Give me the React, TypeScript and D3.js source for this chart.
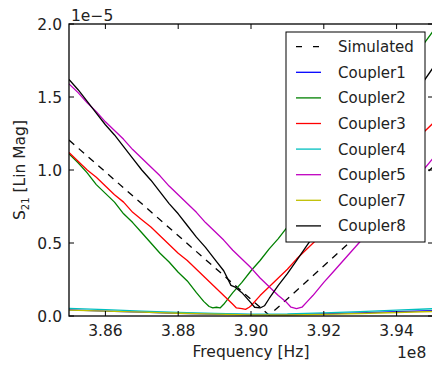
import React from "react";
import * as d3 from "d3";

const X_TICKS = [3.86, 3.88, 3.9, 3.92, 3.94];
const Y_TICKS = [0, 0.5, 1.0, 1.5, 2.0];
const Y_TICK_LABELS = ["0.0", "0.5", "1.0", "1.5", "2.0"];
const X_TICK_LABELS = ["3.86", "3.88", "3.90", "3.92", "3.94"];

const SIMULATED: [number, number][] = [
  [3.85, 1.205], [3.905, 0.005], [3.95, 1.02],
];
const COUPLER1: [number, number][] = [
  [3.85, 0.042], [3.86, 0.034], [3.87, 0.026], [3.88, 0.019], [3.89, 0.013], [3.9, 0.009],
  [3.91, 0.01], [3.92, 0.015], [3.93, 0.022], [3.94, 0.029], [3.95, 0.036],
];
const COUPLER2: [number, number][] = [
  [3.85, 1.11], [3.8525, 1.05], [3.855, 0.98], [3.8575, 0.9], [3.86, 0.84], [3.8625, 0.78],
  [3.865, 0.7], [3.8675, 0.64], [3.87, 0.57], [3.8725, 0.5], [3.875, 0.43], [3.8775, 0.37],
  [3.88, 0.3], [3.8825, 0.24], [3.885, 0.16], [3.887, 0.1], [3.8885, 0.065], [3.8895, 0.055],
  [3.8905, 0.06], [3.8915, 0.055], [3.8925, 0.08], [3.895, 0.16], [3.8975, 0.23], [3.9, 0.31],
  [3.9025, 0.38], [3.905, 0.46], [3.9075, 0.53], [3.91, 0.61], [3.915, 0.77], [3.92, 0.94],
  [3.925, 1.11], [3.93, 1.28], [3.935, 1.45], [3.94, 1.62], [3.945, 1.78], [3.95, 1.95],
];
const COUPLER3: [number, number][] = [
  [3.85, 1.12], [3.8525, 1.06], [3.855, 1.0], [3.8575, 0.95], [3.86, 0.89], [3.8625, 0.83],
  [3.865, 0.78], [3.8675, 0.71], [3.87, 0.66], [3.8725, 0.61], [3.875, 0.55], [3.8775, 0.49],
  [3.88, 0.43], [3.8825, 0.38], [3.885, 0.32], [3.8875, 0.26], [3.89, 0.2], [3.8925, 0.14],
  [3.895, 0.08], [3.896, 0.055], [3.8975, 0.05], [3.8985, 0.045], [3.8995, 0.06], [3.9, 0.07],
  [3.9025, 0.14], [3.905, 0.2], [3.9075, 0.26], [3.91, 0.32], [3.9125, 0.39], [3.915, 0.45],
  [3.92, 0.57], [3.925, 0.7], [3.93, 0.82], [3.935, 0.95], [3.94, 1.07], [3.945, 1.2], [3.95, 1.32],
];
const COUPLER4: [number, number][] = [
  [3.85, 0.052], [3.86, 0.043], [3.87, 0.034], [3.88, 0.025], [3.89, 0.018], [3.9, 0.013],
  [3.91, 0.014], [3.92, 0.021], [3.93, 0.03], [3.94, 0.04], [3.95, 0.05],
];
const COUPLER5: [number, number][] = [
  [3.85, 1.59], [3.8525, 1.53], [3.855, 1.46], [3.8575, 1.4], [3.86, 1.33], [3.8625, 1.27],
  [3.865, 1.21], [3.8675, 1.14], [3.87, 1.08], [3.8725, 1.02], [3.875, 0.96], [3.8775, 0.89],
  [3.88, 0.83], [3.8825, 0.77], [3.885, 0.71], [3.8875, 0.64], [3.89, 0.58], [3.8925, 0.52],
  [3.895, 0.45], [3.8975, 0.39], [3.9, 0.33], [3.9025, 0.26], [3.905, 0.2], [3.9075, 0.14],
  [3.9095, 0.1], [3.911, 0.06], [3.9125, 0.05], [3.914, 0.06], [3.9155, 0.1], [3.917, 0.14],
  [3.92, 0.23], [3.9225, 0.3], [3.925, 0.37], [3.9275, 0.44], [3.93, 0.51], [3.935, 0.65],
  [3.94, 0.79], [3.945, 0.93], [3.95, 1.08],
];
const COUPLER7: [number, number][] = [
  [3.85, 0.04], [3.86, 0.033], [3.87, 0.026], [3.88, 0.019], [3.89, 0.013], [3.9, 0.008],
  [3.91, 0.007], [3.92, 0.011], [3.93, 0.017], [3.94, 0.024], [3.95, 0.031],
];
const COUPLER8: [number, number][] = [
  [3.85, 1.62], [3.8525, 1.55], [3.855, 1.47], [3.8575, 1.39], [3.86, 1.31], [3.8625, 1.24],
  [3.865, 1.16], [3.8675, 1.08], [3.87, 1.0], [3.8725, 0.93], [3.875, 0.85], [3.8775, 0.77],
  [3.88, 0.7], [3.8825, 0.62], [3.885, 0.54], [3.8875, 0.47], [3.89, 0.39], [3.8925, 0.31],
  [3.8945, 0.21], [3.8955, 0.2], [3.8975, 0.16], [3.9, 0.09], [3.901, 0.06], [3.9025, 0.055],
  [3.9037, 0.07], [3.905, 0.12], [3.9075, 0.21], [3.91, 0.29], [3.9125, 0.38], [3.915, 0.47],
  [3.92, 0.65], [3.925, 0.82], [3.93, 1.0], [3.935, 1.17], [3.94, 1.35], [3.945, 1.52], [3.95, 1.7],
];

const SERIES_NAMES = ["Simulated", "Coupler1", "Coupler2", "Coupler3", "Coupler4", "Coupler5", "Coupler7", "Coupler8"];
const SERIES_DATA = [SIMULATED, COUPLER1, COUPLER2, COUPLER3, COUPLER4, COUPLER5, COUPLER7, COUPLER8];
const SERIES_COLORS = ["#000000", "#0000ff", "#008000", "#ff0000", "#00bfbf", "#bf00bf", "#bfbf00", "#000000"];
const SERIES_DASHED = [true, false, false, false, false, false, false, false];

const W = 432, H = 367;
const L = 69, R = 433, T = 24, B = 316;
const FONT = "DejaVu Sans";

export default function App() {
  const x = d3.scaleLinear().domain([3.85, 3.95]).range([L, R]);
  const y = d3.scaleLinear().domain([0, 2]).range([B, T]);
  const line = d3.line<[number, number]>().x(d => x(d[0])).y(d => y(d[1]));
  const tick = 5;
  const legX = 286, legY = 32, legW = 139, legH = 210;
  const rowH = 25.6;

  return (
    <svg width={W} height={H} style={{ position: "absolute", left: 0, top: 0, background: "#fff" }} fontFamily={FONT}>
      <rect x={0} y={0} width={W} height={H} fill="#fff" />
      <defs>
        <clipPath id="plot"><rect x={L} y={T} width={R - L} height={B - T} /></clipPath>
      </defs>
      <g clipPath="url(#plot)">
        {SERIES_DATA.map((d, i) => (
          <path key={i} d={line(d) || ""} fill="none" stroke={SERIES_COLORS[i]} strokeWidth={1.3}
            strokeDasharray={SERIES_DASHED[i] ? "7,6" : undefined} strokeLinejoin="round" />
        ))}
      </g>
      {/* ticks */}
      {X_TICKS.map((t, i) => (
        <g key={"xt" + i}>
          <line x1={x(t)} x2={x(t)} y1={B} y2={B - tick} stroke="#000" strokeWidth={1} />
          <line x1={x(t)} x2={x(t)} y1={T} y2={T + tick} stroke="#000" strokeWidth={1} />
          <text x={x(t)} y={335.5} fontSize={15.5} textAnchor="middle" fill="#222">{X_TICK_LABELS[i]}</text>
        </g>
      ))}
      {Y_TICKS.map((t, i) => (
        <g key={"yt" + i}>
          <line x1={L} x2={L + tick} y1={y(t)} y2={y(t)} stroke="#000" strokeWidth={1} />
          <line x1={R} x2={R - tick} y1={y(t)} y2={y(t)} stroke="#000" strokeWidth={1} />
          <text x={62} y={y(t)} dy="0.36em" fontSize={15.5} textAnchor="end" fill="#222">{Y_TICK_LABELS[i]}</text>
        </g>
      ))}
      <rect x={L} y={T} width={R - L} height={B - T} fill="none" stroke="#000" strokeWidth={1.3} />
      <text x={71} y={21} fontSize={15.5} fill="#222">1e−5</text>
      <text x={397} y={358} fontSize={15.5} fill="#222">1e8</text>
      <text x={(L + R) / 2} y={357} fontSize={15.5} textAnchor="middle" fill="#222">Frequency [Hz]</text>
      <text transform={`translate(25,${(T + B) / 2}) rotate(-90)`} fontSize={15.5} textAnchor="middle" fill="#222">
        S<tspan fontSize={10} dy={4}>21</tspan><tspan dy={-4}> [Lin Mag]</tspan>
      </text>
      {/* legend */}
      <rect x={legX} y={legY} width={legW} height={legH} fill="#fff" stroke="#000" strokeWidth={1} />
      {SERIES_NAMES.map((n, i) => {
        const cy = 46.7 + i * rowH;
        return (
          <g key={"lg" + i}>
            <line x1={296} x2={321} y1={cy} y2={cy} stroke={SERIES_COLORS[i]} strokeWidth={1.3}
              strokeDasharray={SERIES_DASHED[i] ? "6,11" : undefined} />
            <text x={338} y={cy} dy="0.36em" fontSize={15} fill="#222">{n}</text>
          </g>
        );
      })}
    </svg>
  );
}
